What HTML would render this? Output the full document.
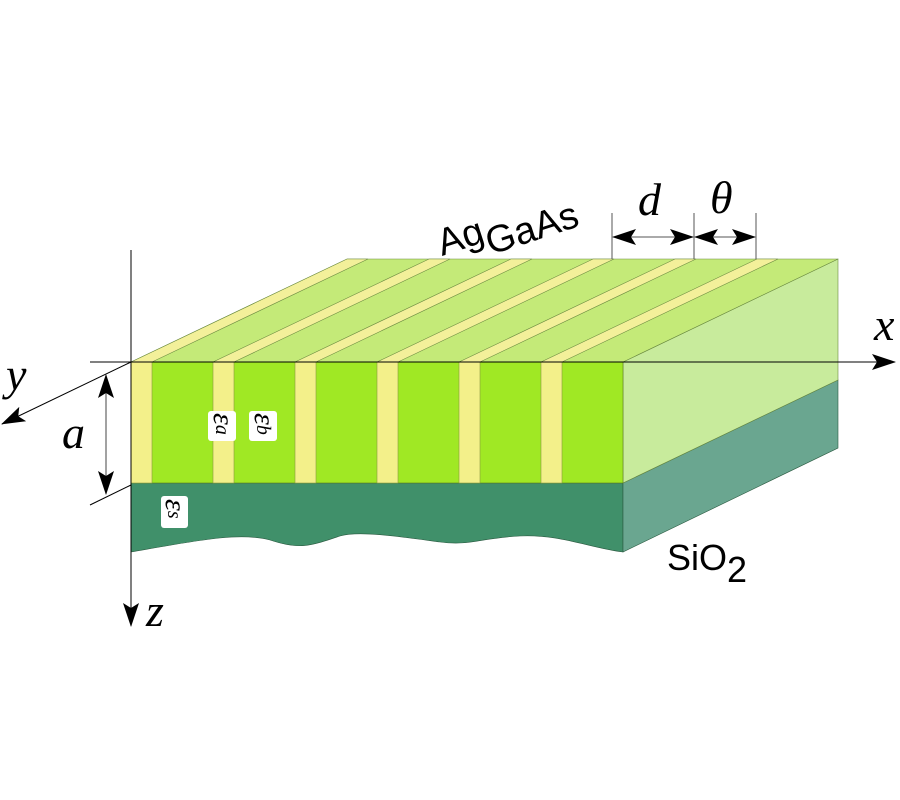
<!DOCTYPE html>
<html><head><meta charset="utf-8"><style>body{margin:0;background:#fff}svg{display:block}</style></head><body>
<svg width="900" height="800" viewBox="0 0 900 800" xmlns="http://www.w3.org/2000/svg">
<defs>
<marker id="ab" viewBox="0 0 24 16" markerWidth="24" markerHeight="16" refX="23" refY="8" orient="auto" markerUnits="userSpaceOnUse"><path d="M0,0 L24,8 L0,16 L5,8 Z" fill="#000"/></marker>
<marker id="abs" viewBox="0 0 24 16" markerWidth="24" markerHeight="16" refX="1" refY="8" orient="auto" markerUnits="userSpaceOnUse"><path d="M24,0 L0,8 L24,16 L19,8 Z" fill="#000"/></marker></defs>
<path d="M131,483 L623,483 L623,552 C590,548 560,534 520,536 C480,538 470,546 440,542 C410,538 360,530 340,536 C310,546 300,550 270,540 C240,532 200,540 131,552 Z" fill="#40906a" stroke="#2a5a40" stroke-width="0.6"/>
<path d="M623,483 L838,380 L838,448 L623,552 Z" fill="#6aa690" stroke="#2a5a40" stroke-width="0.6"/>
<path d="M623,362 L838,259 L838,380 L623,483 Z" fill="#c8eb9c" stroke="#6a8a40" stroke-width="0.6"/>
<path d="M131,362 L347,259 L838,259 L623,362 Z" fill="#c4ea78" stroke="#6a8a40" stroke-width="0.6"/>
<g fill="#f3f09a" stroke="#6a8a40" stroke-width="0.6">
<path d="M131,362 L347,259 L368,259 L152,362 Z"/>
<path d="M213,362 L429,259 L450,259 L234,362 Z"/>
<path d="M295,362 L511,259 L532,259 L316,362 Z"/>
<path d="M377,362 L593,259 L614,259 L398,362 Z"/>
<path d="M459,362 L675,259 L696,259 L480,362 Z"/>
<path d="M541,362 L757,259 L778,259 L562,362 Z"/>
</g>
<rect x="131" y="362" width="492" height="121" fill="#a0e824" stroke="#5a7a20" stroke-width="0.6"/>
<g fill="#f3f08a" stroke="#8a9a40" stroke-width="0.6">
<rect x="131" y="362" width="21" height="121"/><rect x="213" y="362" width="21" height="121"/><rect x="295" y="362" width="21" height="121"/><rect x="377" y="362" width="21" height="121"/><rect x="459" y="362" width="21" height="121"/><rect x="541" y="362" width="21" height="121"/>
</g>
<line x1="90" y1="362" x2="895" y2="362" stroke="#000" stroke-width="1" marker-end="url(#ab)"/>
<line x1="131" y1="250" x2="131" y2="626" stroke="#000" stroke-width="1" marker-end="url(#ab)"/>
<line x1="131" y1="362" x2="2" y2="424" stroke="#000" stroke-width="1" marker-end="url(#ab)"/>
<line x1="131" y1="485" x2="90" y2="505" stroke="#000" stroke-width="1"/>
<line x1="106" y1="375" x2="106" y2="494" stroke="#444" stroke-width="1" marker-start="url(#abs)" marker-end="url(#ab)"/>
<line x1="612" y1="213" x2="612" y2="259" stroke="#555" stroke-width="1"/>
<line x1="694" y1="213" x2="694" y2="259" stroke="#555" stroke-width="1"/>
<line x1="756" y1="213" x2="756" y2="259" stroke="#555" stroke-width="1"/>
<line x1="613" y1="237" x2="693" y2="237" stroke="#555" stroke-width="1" marker-start="url(#abs)" marker-end="url(#ab)"/>
<line x1="695" y1="237" x2="755" y2="237" stroke="#555" stroke-width="1" marker-start="url(#abs)" marker-end="url(#ab)"/>
<g font-family="Liberation Serif, serif" font-style="italic" font-size="46" fill="#000">
<text x="638" y="215">d</text><text x="710" y="213">θ</text>
<text x="874" y="340">x</text><text x="6" y="390">y</text>
<text x="62" y="448">a</text><text x="146" y="626">z</text>
</g>
<g font-family="Liberation Sans, sans-serif" font-size="38" fill="#000">
<text transform="translate(442,256) rotate(-18)">Ag<tspan dy="14">GaAs</tspan></text>
<text x="667" y="570" font-size="36">SiO<tspan dy="12">2</tspan></text>
</g>
<g fill="#fff"><rect x="208" y="411" width="28" height="30" rx="3"/><rect x="249" y="411" width="28" height="30" rx="3"/><rect x="161" y="496" width="27" height="32" rx="3"/></g>
<g font-family="Liberation Serif, serif" font-style="italic" font-size="30" fill="#000">
<text transform="translate(214,413) rotate(90)">ε<tspan font-size="20" dy="-2">a</tspan></text>
<text transform="translate(255,413) rotate(90)">ε<tspan font-size="20" dy="-2">b</tspan></text>
<text transform="translate(166,499) rotate(90)">ε<tspan font-size="20" dy="-2">s</tspan></text>
</g>
</svg>
</body></html>
